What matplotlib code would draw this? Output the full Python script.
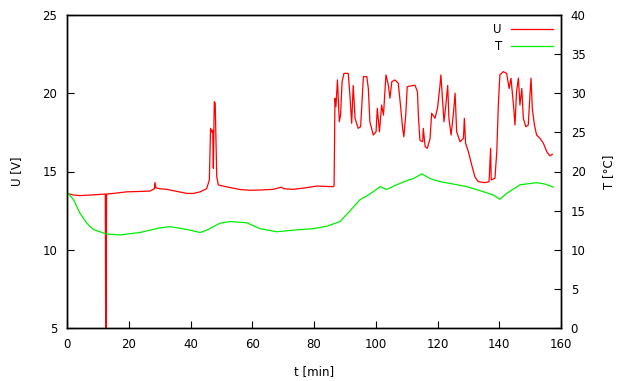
import matplotlib
matplotlib.use("Agg")
import matplotlib.pyplot as plt

# U [V] trace
t_u = [0, 2, 4.2, 8, 12.4, 12.6, 12.8, 16, 19.3, 23, 26.9, 28.3, 28.5, 28.8, 30, 32.3, 35,
       38.8, 41, 43.1, 45.2, 46.1, 46.5, 47.0, 47.2, 47.4, 47.7, 48.0, 48.5, 49, 51,
       53.9, 56, 59.3, 63, 66.8, 69.5, 70.2, 73.3, 77, 80.9, 84, 86.3, 86.5,
       86.8, 87.1, 87.6, 88.2, 88.6, 89.1, 89.7, 91.1, 91.7, 92.2, 92.7, 93.3, 94.3, 95.1,
       96, 97.1, 97.6, 98.1, 99.2, 100.1, 100.5, 101.2, 101.9, 102.5, 103.3, 104.1, 104.6,
       105.2, 106.2, 107.3, 108.1, 108.7, 109.1, 109.7, 110.2, 112.7, 113.5, 113.8, 114.3,
       115.2, 115.4, 116, 116.7, 117.6, 118.1, 119.2, 120, 120.8, 121.1, 121.6, 122.1,
       122.7, 123.3, 123.7, 124.4, 125.1, 125.7, 126.2, 127.3, 128.4, 128.7, 129.1, 130,
       131.1, 132.1, 133.2, 135.4, 136.7, 137.2, 137.4, 138.6, 139.2, 139.7, 140.2, 141.3,
       142.4, 143.2, 143.8, 144.6, 145.1, 145.6, 146.2, 146.7, 147.3, 147.8, 148.6, 149.4,
       150, 150.3, 150.7, 151.4, 152.1, 153.2, 154.3, 155.4, 156.4, 157.2]
u = [13.6, 13.5, 13.46, 13.5, 13.56, 0, 13.56, 13.62, 13.7, 13.72, 13.75, 13.9, 14.3, 13.95, 13.9, 13.86, 13.75,
     13.6, 13.6, 13.7, 13.9, 14.45, 17.76, 17.5, 17.65, 15.2, 19.46, 19.36, 14.67, 14.14, 14.05,
     13.93, 13.85, 13.8, 13.82, 13.86, 14.0, 13.9, 13.86, 13.95, 14.07, 14.05, 14.03, 14.1,
     19.68, 19.14, 20.85, 18.18, 18.6, 20.74, 21.27, 21.27, 19.68, 18.08, 20.5, 18.4, 17.76, 17.86,
     21.06, 21.06, 20.3, 18.18, 17.33, 17.54, 19.04, 17.54, 19.25, 18.6, 21.17, 20.5, 19.68,
     20.74, 20.85, 20.64, 19.04, 17.76, 17.22, 18.6, 20.42, 20.52, 20.1, 18.6, 17.0,
     16.9, 17.76, 16.58, 16.48, 17.12, 18.72, 18.4, 19.04, 20.5, 21.17, 19.68, 18.18,
     19.25, 20.5, 18.4, 17.33, 18.6, 20.0, 17.54, 16.9, 17.12, 18.4, 16.8, 16.26,
     15.4, 14.67, 14.35, 14.29, 14.35, 16.48, 14.46, 14.56, 16.26, 19.25, 21.17, 21.38,
     21.27, 20.3, 20.96, 19.25, 17.97, 20.1, 20.96, 19.25, 20.3, 18.4, 17.86, 17.97,
     20.1, 20.96, 19.04, 17.97, 17.33, 17.12, 16.8, 16.26, 16.0, 16.1]

# T [°C] trace
t_t = [0, 2.1, 4.2, 6.4, 8.5, 12.8, 17.2, 23.6, 30.1, 33.4, 38.8, 43.1, 45.2, 49.6,
       52.8, 58.2, 62.5, 67.9, 73.3, 79.8, 84.1, 88.4, 91.5, 94.9, 98, 101.4, 103.5,
       106.8, 110.5, 112.2, 114.9, 117.6, 120.8, 125.1, 129.5, 133.8, 138.1, 140.2,
       142.4, 146.7, 152.1, 154.8, 157.5]
temp = [17.4, 16.4, 14.66, 13.4, 12.6, 12.0, 11.9, 12.2, 12.8, 12.95, 12.6, 12.2, 12.5, 13.4,
        13.6, 13.45, 12.7, 12.3, 12.5, 12.7, 13.0, 13.6, 14.9, 16.4, 17.1, 18.06, 17.7,
        18.3, 18.9, 19.1, 19.7, 19.1, 18.7, 18.4, 18.06, 17.55, 17.0, 16.45,
        17.2, 18.3, 18.57, 18.4, 18.0]

plt.rcParams['font.family'] = 'DejaVu Sans'
plt.rcParams['font.size'] = 8.5

fig = plt.figure(figsize=(6.22, 3.81), dpi=100)
ax = fig.add_axes([67 / 622, 53 / 381, 494 / 622, 313 / 381])
ax2 = ax.twinx()

l1, = ax.plot(t_u, u, color='#ff0000', lw=0.9, label='U')
l2, = ax2.plot(t_t, temp, color='#00ee00', lw=0.9, label='T')

ax.set_xlim(0, 160)
ax.set_ylim(5, 25)
ax2.set_ylim(0, 40)
ax.set_xticks(range(0, 161, 20))
ax.set_yticks(range(5, 26, 5))
ax2.set_yticks(range(0, 41, 5))

ax.tick_params(direction='in', length=5, width=0.8, colors='black', pad=7)
ax.tick_params(axis='x', top=False)
ax2.tick_params(direction='in', length=5, width=0.8, pad=7)

for a in (ax, ax2):
    for s in a.spines.values():
        s.set_linewidth(1.0)

ax.set_xlabel('t [min]', labelpad=10)
ax.set_ylabel('U [V]', labelpad=14)
ax2.set_ylabel('T [°C]', labelpad=12)

leg = ax.legend([l1, l2], ['U', 'T'], loc='upper right', frameon=False,
                markerfirst=False, handlelength=3.5, borderaxespad=0.3,
                labelspacing=0.3, handletextpad=0.8)

fig.savefig('out.png', dpi=100)
